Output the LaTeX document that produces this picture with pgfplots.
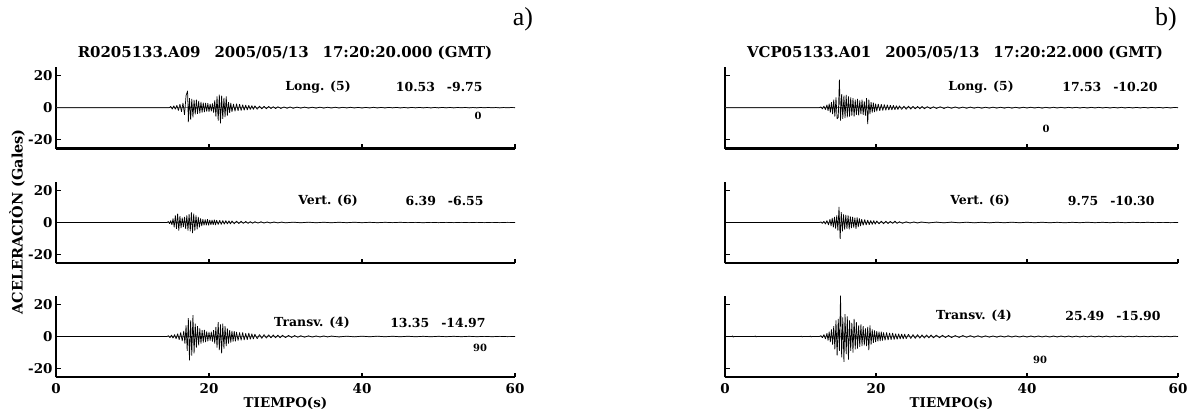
\documentclass[border=0pt]{standalone}
\usepackage{fontspec}
\setmainfont{DejaVu Serif}
\newfontfamily\tnr{Liberation Serif}
\usepackage{pgfplots}
\pgfplotsset{compat=1.18}

\pgfplotsset{
  seis/.style={
    scale only axis, width=459bp, height=81.6bp,
    xmin=0, xmax=60, ymin=-25.5, ymax=25.5,
    axis x line*=bottom, axis y line*=left,
    axis line style={line width=2.1pt, -},
    xtick={0,20,40,60}, ytick={-20,0,20},
    tick align=inside, major tick length=4.5bp,
    tick style={line width=1.1pt, black},
    xticklabels={}, yticklabels={},
    ticklabel style={font=\bfseries\fontsize{13.5}{13.5}\selectfont},
    x tick label style={yshift=-2.5bp},
  },
  ylabs/.style={yticklabels={-20,0,20}},
  xlabs/.style={xticklabels={0,20,40,60},
    xlabel={TIEMPO(s)},
    xlabel style={font=\bfseries\fontsize{13.5}{13.5}\selectfont, yshift=3bp}},
  base/.style={gray, line width=0.5pt},
  tr/.style={black, line width=0.7pt, line join=bevel, mark=none},
}
\newcommand\ann{\bfseries\fontsize{12.5}{12.5}\selectfont}
\newcommand\sml{\bfseries\fontsize{10}{10}\selectfont}
\newcommand\ttl{\bfseries\fontsize{15}{15}\selectfont}

\begin{document}
\begin{tikzpicture}
\useasboundingbox (0,0) rectangle (1189bp,-409bp);

% ---------------- a) Long. (5) ----------------
\begin{axis}[seis, ylabs, at={(56bp,-148.5bp)}, anchor=south west]
\addplot[base] coordinates {(0,0) (60,0)};
\addplot[tr] coordinates {
(0,0) (14.8,0) (15.0,0.8) (15.2,-0.9) (15.4,1.2) (15.6,-1.0) (15.8,1.5) (16.0,-1.8)
(16.2,2.2) (16.4,-2.5) (16.6,3.0) (16.8,-4.5) (17.0,7.5) (17.2,10.53) (17.3,-9.0)
(17.45,6.0) (17.6,-7.5) (17.75,5.5) (17.9,-6.0) (18.05,4.8) (18.2,-4.2) (18.35,5.0)
(18.5,-3.8) (18.65,4.2) (18.8,-3.5) (18.95,3.6) (19.1,-3.0) (19.25,3.2) (19.4,-2.8)
(19.55,3.0) (19.7,-2.5) (19.85,2.8) (20.0,-2.6) (20.15,2.4) (20.3,-2.2) (20.45,2.6)
(20.6,-3.0) (20.75,4.5) (20.9,-5.5) (21.05,7.0) (21.2,-8.0) (21.35,8.2) (21.5,-9.75)
(21.65,7.5) (21.8,-7.0) (21.95,6.2) (22.1,-5.8) (22.25,7.0) (22.4,-5.0) (22.55,3.5)
(22.7,-3.2) (22.85,3.0) (23.0,-2.6) (23.2,2.4) (23.4,-2.2) (23.6,2.5) (23.8,-2.0)
(24.0,2.2) (24.2,-1.8) (24.4,1.9) (24.6,-1.6) (24.8,1.7) (25.0,-1.4) (25.2,1.5)
(25.4,-1.2) (25.6,1.3) (25.8,-1.1) (26.0,1.2) (26.3,-1.0) (26.6,1.0) (26.9,-0.8)
(27.2,0.9) (27.5,-0.7) (27.8,0.8) (28.1,-0.6) (28.4,0.7) (28.7,-0.6) (29.0,0.6)
(29.4,-0.5) (29.8,0.5) (30.2,-0.4) (30.6,0.5) (31.0,-0.4) (31.5,0.4) (32,-0.3)
(32.5,0.4) (33,-0.3) (33.5,0.3) (34,-0.3) (34.5,0.35) (35,-0.3) (35.5,0.3) (36,-0.25)
(36.5,0.3) (37,-0.25) (37.5,0.25) (38,-0.2) (38.5,0.25) (39,-0.2) (39.5,0.2) (40,-0.25)
(40.5,0.2) (41,-0.2) (41.5,0.25) (42,-0.2) (42.5,0.2) (43,-0.2) (43.5,0.2) (44,-0.15)
(44.5,0.2) (45,-0.2) (45.5,0.15) (46,-0.2) (46.5,0.2) (47,-0.15) (47.5,0.2) (48,-0.15)
(48.5,0.15) (49,-0.2) (49.5,0.15) (50,-0.15) (50.5,0.2) (51,-0.15) (51.5,0.15)
(52,-0.15) (52.5,0.15) (53,-0.1) (53.5,0.15) (54,-0.15) (54.5,0.1) (55,-0.15)
(55.5,0.15) (56,-0.1) (56.5,0.15) (57,-0.1) (57.5,0.1) (58,-0.15) (58.5,0.1) (59,-0.1)
(59.5,0.1) (60,0)};
\end{axis}

% ---------------- a) Vert. (6) ----------------
\begin{axis}[seis, ylabs, at={(56bp,-263.3bp)}, anchor=south west]
\addplot[base] coordinates {(0,0) (60,0)};
\addplot[tr] coordinates {
(0,0) (14.5,0) (14.7,0.6) (14.85,-0.8) (15.0,1.2) (15.15,-1.5) (15.3,2.5) (15.45,-3.0)
(15.6,4.5) (15.75,-4.0) (15.9,5.5) (16.05,-5.0) (16.2,4.0) (16.35,-3.5) (16.5,3.0)
(16.65,-2.8) (16.8,3.5) (16.95,-4.0) (17.1,4.5) (17.25,-5.0) (17.4,5.2) (17.55,-5.5)
(17.7,6.39) (17.85,-6.55) (18.0,5.5) (18.15,-5.0) (18.3,4.5) (18.45,-4.2) (18.6,3.5)
(18.75,-3.0) (18.9,2.5) (19.05,-2.2) (19.2,2.0) (19.35,-1.8) (19.5,1.9) (19.65,-1.7)
(19.8,2.0) (19.95,-1.8) (20.1,1.6) (20.25,-1.5) (20.4,1.6) (20.55,-1.5) (20.7,1.8)
(20.85,-1.6) (21.0,1.5) (21.2,-1.3) (21.4,1.4) (21.6,-1.2) (21.8,1.3) (22.0,-1.1)
(22.2,1.2) (22.4,-1.0) (22.6,1.1) (22.8,-0.9) (23.0,1.0) (23.3,-0.8) (23.6,0.9)
(23.9,-0.7) (24.2,0.8) (24.5,-0.6) (24.8,0.7) (25.1,-0.6) (25.4,0.6) (25.7,-0.5)
(26,0.5) (26.4,-0.4) (26.8,0.5) (27.2,-0.4) (27.6,0.4) (28,-0.35) (28.5,0.35)
(29,-0.3) (29.5,0.3) (30,-0.25) (31,0.25) (32,-0.2) (33,0.25) (34,-0.2) (35,0.2)
(36,-0.2) (37,0.2) (38,-0.15) (39,0.2) (40,-0.15) (41,0.15) (42,-0.15) (43,0.15)
(44,-0.1) (45,0.15) (46,-0.1) (47,0.1) (48,-0.15) (49,0.1) (50,-0.1) (51,0.1)
(52,-0.1) (53,0.1) (54,-0.1) (55,0.1) (56,-0.1) (57,0.1) (58,-0.1) (59,0.1) (60,0)};
\end{axis}

% ---------------- a) Transv. (4) ----------------
\begin{axis}[seis, ylabs, xlabs, at={(56bp,-377.3bp)}, anchor=south west]
\addplot[base] coordinates {(0,0) (60,0)};
\addplot[tr] coordinates {
(0,0) (14.5,0) (14.7,0.5) (14.9,-0.7) (15.1,0.9) (15.3,-1.0) (15.5,1.2) (15.7,-1.4)
(15.9,1.8) (16.1,-2.0) (16.3,2.5) (16.5,-2.8) (16.7,3.5) (16.85,-4.5) (17.0,7.0)
(17.15,-9.0) (17.3,11.5) (17.45,-14.97) (17.6,10.0) (17.75,-12.0) (17.9,13.35)
(18.05,-10.5) (18.2,8.0) (18.35,-7.0) (18.5,6.5) (18.65,-5.5) (18.8,5.0) (18.95,-4.5)
(19.1,4.0) (19.25,-3.8) (19.4,4.2) (19.55,-3.5) (19.7,3.2) (19.85,-3.0) (20.0,2.8)
(20.15,-2.6) (20.3,3.0) (20.45,-3.2) (20.6,4.0) (20.75,-4.5) (20.9,6.0) (21.05,-7.0)
(21.2,9.0) (21.35,-8.5) (21.5,7.5) (21.65,-10.5) (21.8,8.0) (21.95,-7.5) (22.1,6.5)
(22.25,-6.0) (22.4,5.0) (22.55,-4.5) (22.7,4.0) (22.85,-3.8) (23.0,3.5) (23.15,-3.2)
(23.3,3.4) (23.45,-3.0) (23.6,2.8) (23.8,-2.6) (24.0,2.5) (24.2,-2.4) (24.4,2.6)
(24.6,-2.2) (24.8,2.0) (25.0,-2.0) (25.2,2.2) (25.4,-1.8) (25.6,1.7) (25.8,-1.6)
(26.0,1.5) (26.3,-1.4) (26.6,1.3) (26.9,-1.2) (27.2,1.2) (27.5,-1.0) (27.8,1.1)
(28.1,-0.9) (28.4,1.0) (28.7,-0.8) (29.0,0.9) (29.3,-0.8) (29.6,0.8) (30.0,-0.7)
(30.4,0.7) (30.8,-0.6) (31.2,0.6) (31.6,-0.5) (32,0.5) (32.5,-0.45) (33,0.45)
(33.5,-0.4) (34,0.4) (34.5,-0.35) (35,0.4) (35.5,-0.3) (36,0.3) (37,-0.3) (38,0.25)
(39,-0.25) (40,0.25) (41,-0.2) (42,0.25) (43,-0.2) (44,0.2) (45,-0.2) (46,0.2)
(47,-0.2) (48,0.15) (49,-0.2) (50,0.15) (51,-0.15) (52,0.15) (53,-0.15) (54,0.15)
(55,-0.15) (56,0.1) (57,-0.15) (58,0.1) (59,-0.1) (60,0)};
\end{axis}

% ---------------- b) Long. (5) ----------------
\begin{axis}[seis, width=453bp, at={(725bp,-148.5bp)}, anchor=south west]
\addplot[base] coordinates {(0,0) (60,0)};
\addplot[tr] coordinates {
(0,0) (12.5,0) (12.7,0.5) (12.9,-0.8) (13.1,1.0) (13.3,-1.2) (13.5,1.8) (13.65,-2.0)
(13.8,2.5) (13.95,-3.0) (14.1,3.5) (14.25,-4.0) (14.4,5.0) (14.55,-5.5) (14.7,6.5)
(14.85,-7.0) (15.0,-6.0) (15.15,17.53) (15.3,-8.0) (15.45,8.5) (15.6,-7.0) (15.75,7.5)
(15.9,-6.5) (16.05,8.0) (16.2,-6.0) (16.35,7.0) (16.5,-5.5) (16.65,6.5) (16.8,-5.0)
(16.95,6.0) (17.1,-5.5) (17.25,5.0) (17.4,-4.5) (17.55,5.5) (17.7,-4.8) (17.85,4.5)
(18.0,-4.0) (18.15,5.0) (18.3,-4.5) (18.45,4.0) (18.6,-5.0) (18.75,6.0) (18.9,-10.20)
(19.05,5.0) (19.2,-4.0) (19.35,3.5) (19.5,-3.0) (19.65,3.2) (19.8,-2.8) (19.95,2.5)
(20.1,-2.2) (20.3,2.4) (20.5,-2.0) (20.7,2.2) (20.9,-1.8) (21.1,2.0) (21.3,-1.6)
(21.5,1.8) (21.7,-1.5) (21.9,1.6) (22.1,-1.4) (22.3,1.5) (22.5,-1.3) (22.7,1.3)
(22.9,-1.2) (23.1,1.2) (23.4,-1.1) (23.7,1.0) (24.0,-1.0) (24.3,1.0) (24.6,-0.9)
(24.9,0.9) (25.2,-0.8) (25.5,0.8) (25.8,-0.7) (26.1,0.8) (26.4,-0.7) (26.8,0.7)
(27.2,-0.6) (27.6,0.6) (28,-0.5) (28.5,0.6) (29,-0.5) (29.5,0.5) (30,-0.4) (30.5,0.5)
(31,-0.4) (31.5,0.4) (32,-0.4) (32.5,0.4) (33,-0.35) (33.5,0.35) (34,-0.35) (34.5,0.3)
(35,-0.3) (35.5,0.35) (36,-0.3) (36.5,0.3) (37,-0.3) (37.5,0.3) (38,-0.3) (38.5,0.25)
(39,-0.3) (39.5,0.3) (40,-0.25) (40.5,0.3) (41,-0.25) (41.5,0.25) (42,-0.3) (42.5,0.25)
(43,-0.25) (43.5,0.3) (44,-0.25) (44.5,0.25) (45,-0.25) (45.5,0.25) (46,-0.2)
(46.5,0.25) (47,-0.25) (47.5,0.2) (48,-0.25) (48.5,0.25) (49,-0.2) (49.5,0.25)
(50,-0.2) (50.5,0.2) (51,-0.25) (51.5,0.2) (52,-0.2) (52.5,0.25) (53,-0.2) (53.5,0.2)
(54,-0.2) (54.5,0.2) (55,-0.2) (55.5,0.2) (56,-0.2) (56.5,0.2) (57,-0.15) (57.5,0.2)
(58,-0.2) (58.5,0.15) (59,-0.2) (59.5,0.15) (60,0)};
\end{axis}

% ---------------- b) Vert. (6) ----------------
\begin{axis}[seis, width=453bp, at={(725bp,-263.3bp)}, anchor=south west]
\addplot[base] coordinates {(0,0) (60,0)};
\addplot[tr] coordinates {
(0,0) (12.5,0) (12.7,0.4) (12.9,-0.6) (13.1,0.8) (13.3,-1.0) (13.5,1.3) (13.7,-1.5)
(13.9,2.0) (14.05,-2.2) (14.2,2.8) (14.35,-3.0) (14.5,3.5) (14.65,-3.8) (14.8,4.5)
(14.95,-5.0) (15.1,9.75) (15.25,-10.30) (15.4,6.5) (15.55,-5.5) (15.7,5.0) (15.85,-4.5)
(16.0,4.8) (16.15,-4.0) (16.3,4.5) (16.45,-4.2) (16.6,3.8) (16.75,-3.5) (16.9,3.5)
(17.05,-3.2) (17.2,3.0) (17.35,-4.0) (17.5,3.2) (17.65,-2.8) (17.8,2.5) (17.95,-2.2)
(18.1,2.0) (18.3,-1.8) (18.5,1.9) (18.7,-1.6) (18.9,1.5) (19.1,-1.4) (19.3,1.3)
(19.5,-1.2) (19.7,1.2) (19.9,-1.1) (20.1,1.0) (20.4,-0.9) (20.7,0.9) (21.0,-0.8)
(21.3,0.8) (21.6,-0.7) (21.9,0.7) (22.2,-0.6) (22.5,0.9) (22.8,-0.6) (23.1,0.5)
(23.5,-0.5) (24,0.45) (24.5,-0.4) (25,0.4) (25.5,-0.35) (26,0.35) (27,-0.3) (28,0.3)
(29,-0.25) (30,0.3) (31,-0.25) (32,0.25) (33,-0.25) (34,0.2) (35,-0.25) (36,0.2)
(37,-0.2) (38,0.25) (39,-0.2) (40,0.2) (41,-0.2) (42,0.2) (43,-0.2) (44,0.15)
(45,-0.2) (46,0.15) (47,-0.15) (48,0.2) (49,-0.15) (50,0.15) (51,-0.15) (52,0.15)
(53,-0.15) (54,0.15) (55,-0.1) (56,0.15) (57,-0.1) (58,0.1) (59,-0.1) (60,0)};
\end{axis}

% ---------------- b) Transv. (4) ----------------
\begin{axis}[seis, xlabs, width=453bp, at={(725bp,-377.3bp)}, anchor=south west]
\addplot[base] coordinates {(0,0) (60,0)};
\addplot[tr] coordinates {
(0,0) (0.9,0) (1.0,0.4) (1.1,-0.4) (1.2,0) (3.9,0) (4.0,0.4) (4.1,-0.3) (4.2,0)
(10.0,0) (10.1,0.3) (10.2,-0.3) (10.3,0) (11.2,0) (11.3,0.3) (11.4,-0.3) (11.5,0)
(12.5,0) (12.7,0.6) (12.9,-0.8) (13.1,1.2) (13.3,-1.5) (13.5,2.0) (13.65,-2.5)
(13.8,3.0) (13.95,-3.5) (14.1,4.5) (14.25,-5.0) (14.4,6.5) (14.55,-8.0) (14.7,10.0)
(14.85,-12.0) (15.0,11.0) (15.15,-9.0) (15.3,25.49) (15.45,-13.0) (15.6,12.0)
(15.75,-15.90) (15.9,14.0) (16.05,-11.0) (16.2,12.5) (16.35,-14.5) (16.5,10.0)
(16.65,-9.0) (16.8,8.5) (16.95,-10.0) (17.1,11.0) (17.25,-8.0) (17.4,9.0) (17.55,-7.5)
(17.7,7.0) (17.85,-6.5) (18.0,7.5) (18.15,-6.0) (18.3,6.5) (18.45,-5.5) (18.6,5.0)
(18.75,-6.0) (18.9,6.0) (19.05,-8.5) (19.2,7.0) (19.35,-5.0) (19.5,4.5) (19.65,-4.0)
(19.8,3.8) (19.95,-3.5) (20.1,3.4) (20.25,-3.0) (20.4,3.0) (20.55,-2.8) (20.7,3.0)
(20.85,-2.6) (21.0,2.5) (21.2,-2.4) (21.4,2.6) (21.6,-2.2) (21.8,2.2) (22.0,-2.0)
(22.2,2.2) (22.4,-1.9) (22.6,1.8) (22.8,-1.8) (23.0,1.7) (23.2,-1.6) (23.4,1.6)
(23.6,-1.5) (23.8,1.5) (24.0,-1.4) (24.3,1.4) (24.6,-1.3) (24.9,1.3) (25.2,-1.2)
(25.5,1.2) (25.8,-1.1) (26.1,1.1) (26.4,-1.0) (26.7,1.0) (27.0,-0.9) (27.3,1.0)
(27.6,-0.9) (28.0,0.9) (28.4,-0.8) (28.8,0.8) (29.2,-0.7) (29.6,0.7) (30.0,-0.7)
(30.5,0.6) (31,-0.6) (31.5,0.6) (32,-0.5) (32.5,0.55) (33,-0.5) (33.5,0.5) (34,-0.5)
(34.5,0.45) (35,-0.45) (35.5,0.4) (36,-0.45) (36.5,0.4) (37,-0.4) (37.5,0.45) (38,-0.4)
(38.5,0.4) (39,-0.4) (39.5,0.35) (40,-0.4) (40.5,0.4) (41,-0.35) (41.5,0.4) (42,-0.35)
(42.5,0.35) (43,-0.4) (43.5,0.35) (44,-0.35) (44.5,0.35) (45,-0.3) (45.5,0.35)
(46,-0.35) (46.5,0.3) (47,-0.35) (47.5,0.3) (48,-0.3) (48.5,0.35) (49,-0.3) (49.5,0.3)
(50,-0.3) (50.5,0.3) (51,-0.3) (51.5,0.3) (52,-0.25) (52.5,0.3) (53,-0.3) (53.5,0.25)
(54,-0.25) (54.5,0.3) (55,-0.25) (55.5,0.25) (56,-0.25) (56.5,0.25) (57,-0.2)
(57.5,0.25) (58,-0.25) (58.5,0.2) (59,-0.2) (59.5,0.2) (60,0)};
\end{axis}

% titles, panel letters and annotations
\node[font=\ttl] at (285bp,-53bp) {R0205133.A09\hspace{14bp}2005/05/13\hspace{14bp}17:20:20.000 (GMT)};
\node[font=\ttl] at (955bp,-53bp) {VCP05133.A01\hspace{14bp}2005/05/13\hspace{14bp}17:20:22.000 (GMT)};
\node[font=\tnr\fontsize{26}{26}\selectfont] at (523bp,-19bp) {a)};
\node[font=\tnr\fontsize{26}{26}\selectfont] at (1166bp,-19bp) {b)};
\node[font=\bfseries\fontsize{14.5}{14.5}\selectfont, rotate=90] at (17bp,-222bp) {ACELERACIÒN (Gales)};

\node[font=\ann] at (318bp,-87bp) {Long. (5)};
\node[font=\ann, anchor=east] at (486bp,-87bp) {10.53\hspace{12bp}-9.75};
\node[font=\sml] at (478bp,-116bp) {0};
\node[font=\ann] at (328bp,-201bp) {Vert. (6)};
\node[font=\ann, anchor=east] at (487bp,-201bp) {6.39\hspace{12bp}-6.55};
\node[font=\ann] at (312bp,-323bp) {Transv. (4)};
\node[font=\ann, anchor=east] at (489bp,-323bp) {13.35\hspace{12bp}-14.97};
\node[font=\sml] at (480bp,-348bp) {90};

\node[font=\ann] at (981bp,-87bp) {Long. (5)};
\node[font=\ann, anchor=east] at (1161bp,-87bp) {17.53\hspace{12bp}-10.20};
\node[font=\sml] at (1046bp,-129bp) {0};
\node[font=\ann] at (980bp,-201bp) {Vert. (6)};
\node[font=\ann, anchor=east] at (1158bp,-201bp) {9.75\hspace{12bp}-10.30};
\node[font=\ann] at (974bp,-316bp) {Transv. (4)};
\node[font=\ann, anchor=east] at (1164bp,-316bp) {25.49\hspace{12bp}-15.90};
\node[font=\sml] at (1040bp,-360bp) {90};
\end{tikzpicture}
\end{document}
